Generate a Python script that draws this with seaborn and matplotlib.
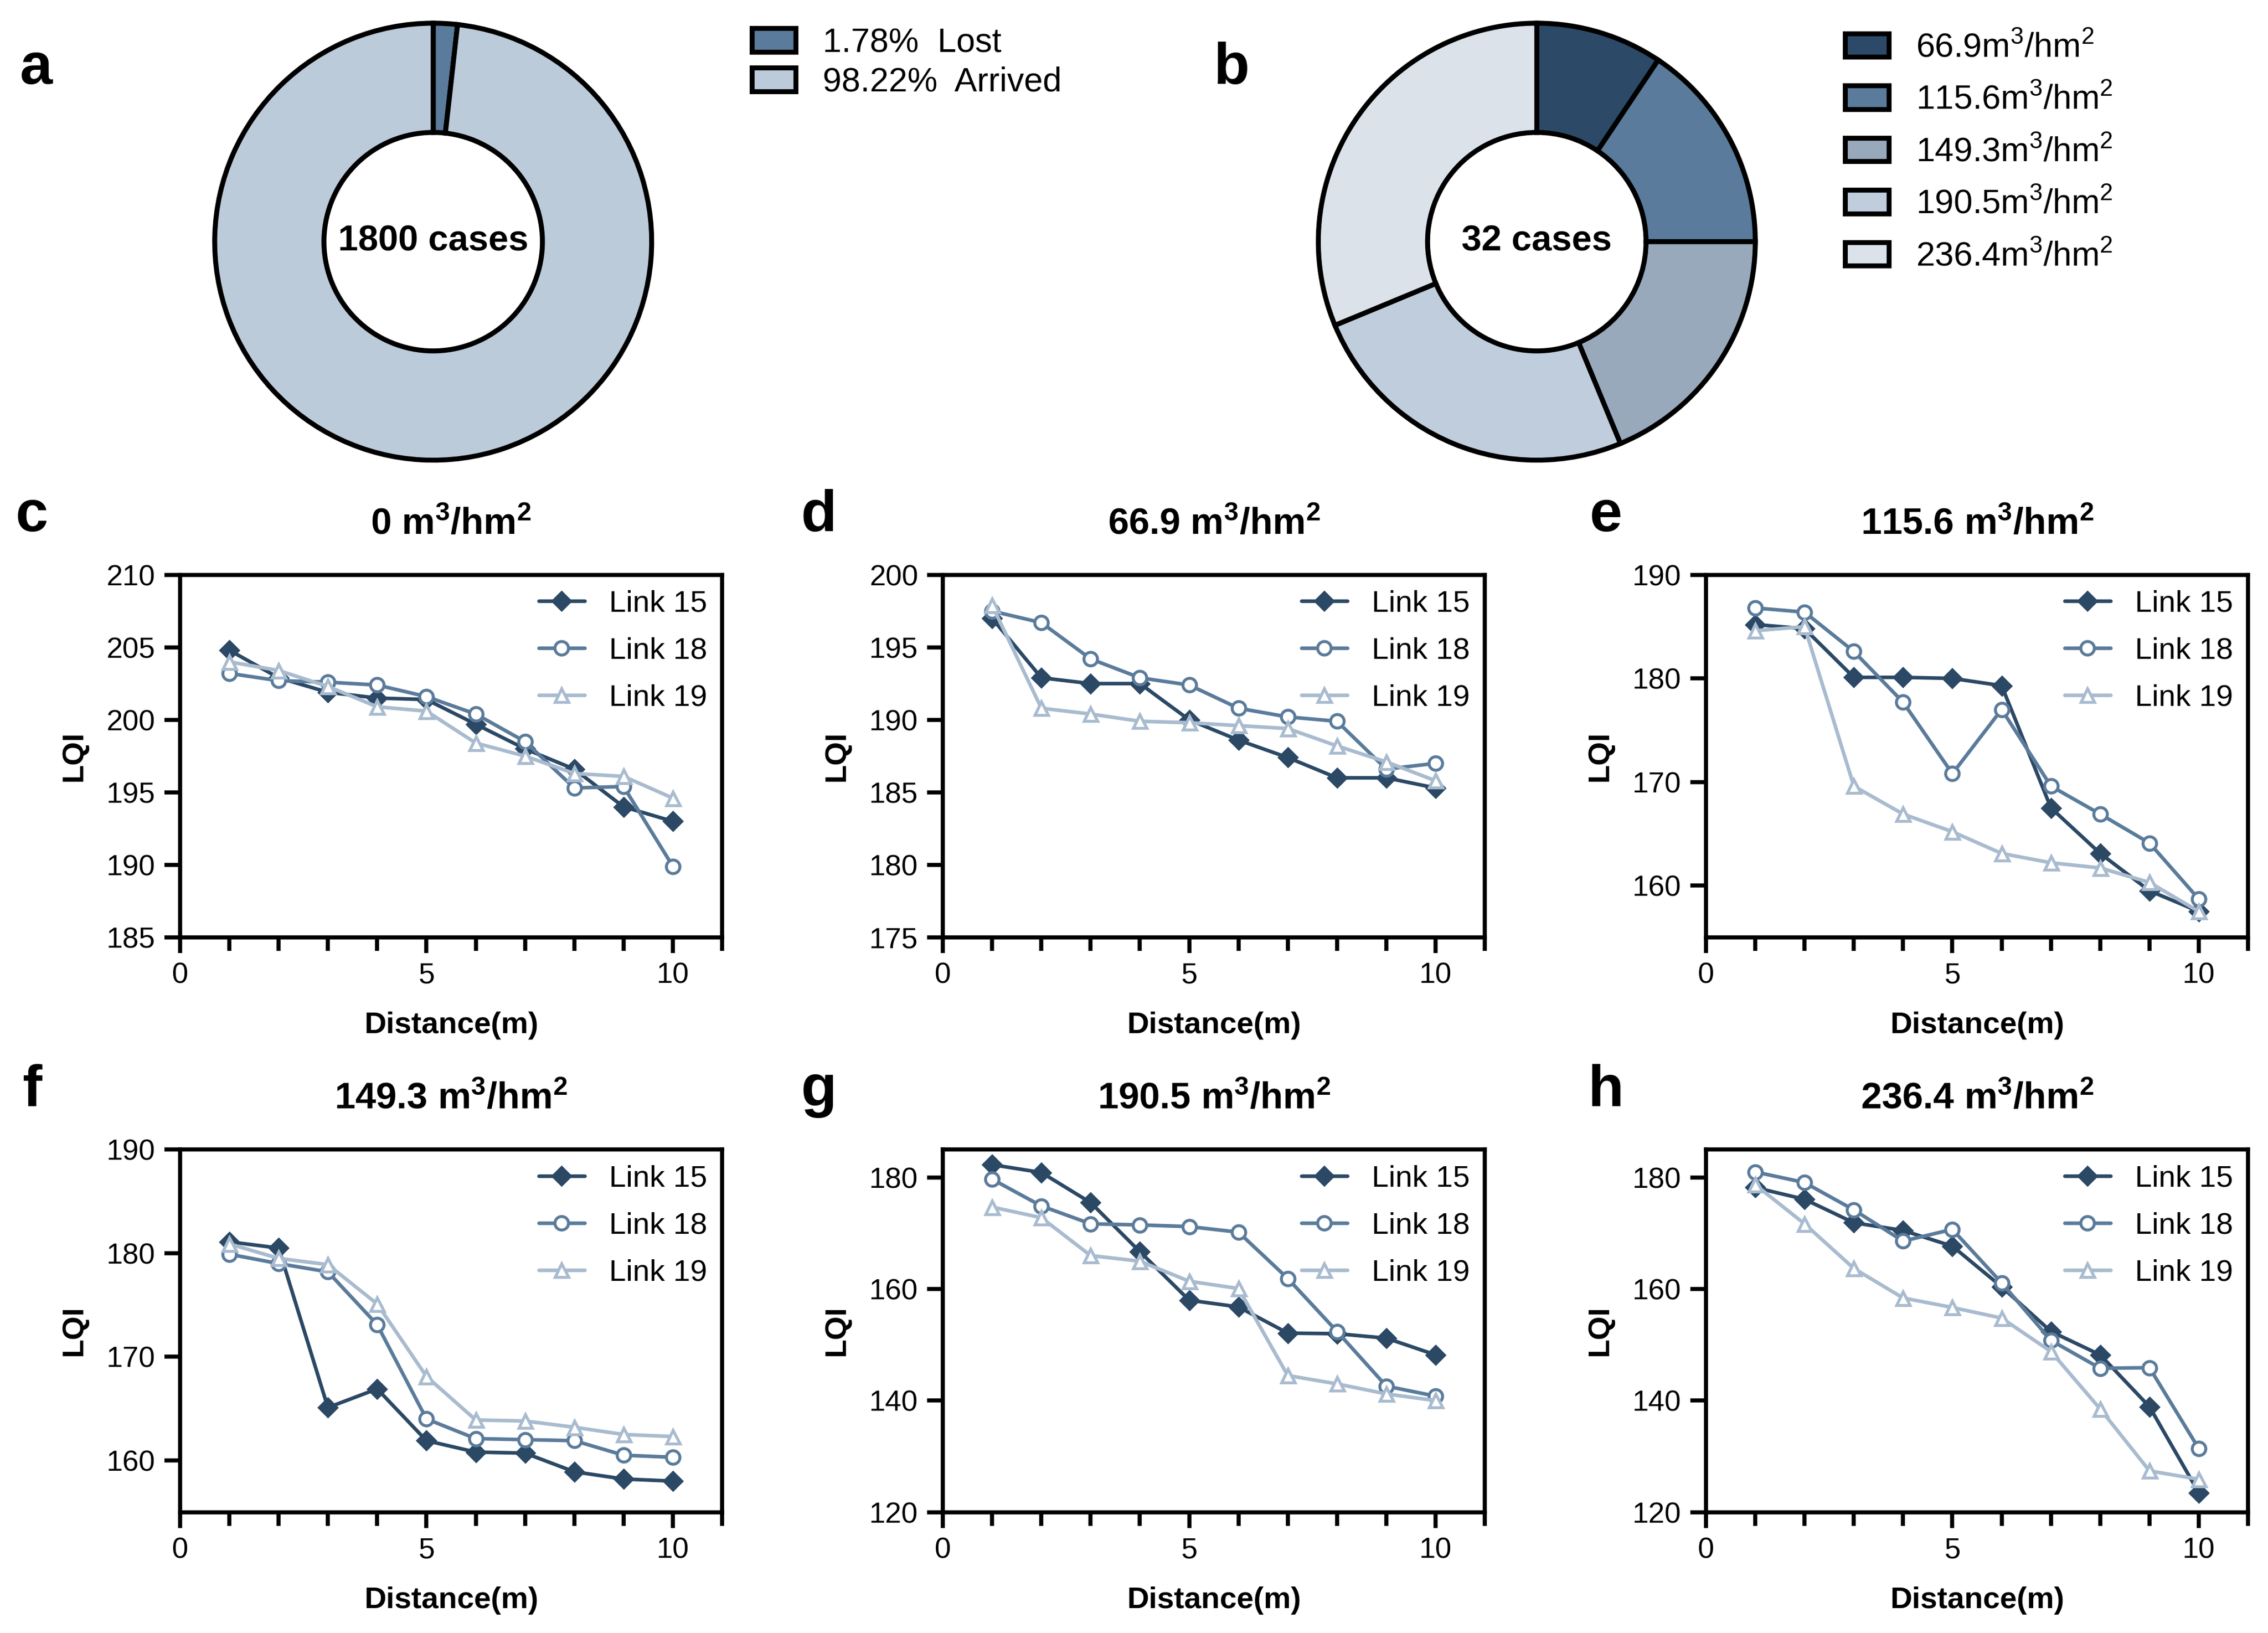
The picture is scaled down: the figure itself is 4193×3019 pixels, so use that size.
import numpy as np
import pandas as pd
import matplotlib
matplotlib.use("Agg")
import matplotlib.pyplot as plt
from matplotlib.patches import Patch
import seaborn as sns

# ---------------- data ----------------
pie_a_labels = ["1.78%  Lost", "98.22%  Arrived"]
pie_a_values = [1.78, 98.22]
pie_a_center = "1800 cases"

pie_b_labels = [r"66.9m$^3$/hm$^2$", r"115.6m$^3$/hm$^2$", r"149.3m$^3$/hm$^2$",
                r"190.5m$^3$/hm$^2$", r"236.4m$^3$/hm$^2$"]
pie_b_values = [3, 5, 6, 8, 10]
pie_b_center = "32 cases"

distance = [1, 2, 3, 4, 5, 6, 7, 8, 9, 10]
links = ["Link 15", "Link 18", "Link 19"]

c15 = [204.8, 202.9, 201.9, 201.5, 201.4, 199.7, 198.0, 196.6, 194.0, 193.0]
c18 = [203.2, 202.7, 202.6, 202.4, 201.6, 200.4, 198.5, 195.3, 195.4, 189.9]
c19 = [204.0, 203.4, 202.3, 200.9, 200.6, 198.4, 197.5, 196.3, 196.1, 194.6]

d15 = [197.0, 192.9, 192.5, 192.5, 190.0, 188.6, 187.4, 186.0, 186.0, 185.3]
d18 = [197.5, 196.7, 194.2, 192.9, 192.4, 190.8, 190.2, 189.9, 186.6, 187.0]
d19 = [197.9, 190.8, 190.4, 189.9, 189.8, 189.6, 189.4, 188.2, 187.1, 185.8]

e15 = [185.2, 184.8, 180.1, 180.1, 180.0, 179.3, 167.5, 163.1, 159.5, 157.5]
e18 = [186.8, 186.4, 182.6, 177.7, 170.8, 177.0, 169.6, 166.9, 164.1, 158.7]
e19 = [184.6, 185.0, 169.6, 166.9, 165.2, 163.1, 162.2, 161.7, 160.3, 157.5]

f15 = [181.1, 180.5, 165.1, 166.9, 161.9, 160.8, 160.7, 158.9, 158.2, 158.0]
f18 = [179.9, 179.0, 178.2, 173.1, 164.0, 162.1, 162.0, 161.9, 160.5, 160.3]
f19 = [180.9, 179.5, 178.9, 175.1, 168.1, 163.9, 163.8, 163.2, 162.5, 162.3]

g15 = [182.3, 180.9, 175.5, 166.7, 158.0, 156.8, 152.1, 152.0, 151.2, 148.2]
g18 = [179.7, 174.9, 171.7, 171.5, 171.2, 170.2, 161.9, 152.4, 142.6, 140.8]
g19 = [174.7, 172.8, 166.0, 165.0, 161.4, 160.1, 144.5, 143.0, 141.2, 140.0]

h15 = [178.2, 176.1, 171.9, 170.5, 167.7, 160.4, 152.4, 148.2, 138.9, 123.5]
h18 = [181.0, 179.1, 174.2, 168.6, 170.7, 161.1, 150.8, 145.8, 145.9, 131.4]
h19 = [178.7, 171.7, 163.7, 158.4, 156.7, 154.8, 148.8, 138.5, 127.4, 125.9]

panel_titles = [r"0 m$^3$/hm$^2$", r"66.9 m$^3$/hm$^2$", r"115.6 m$^3$/hm$^2$",
                r"149.3 m$^3$/hm$^2$", r"190.5 m$^3$/hm$^2$", r"236.4 m$^3$/hm$^2$"]
panel_series = [(c15, c18, c19), (d15, d18, d19), (e15, e18, e19),
                (f15, f18, f19), (g15, g18, g19), (h15, h18, h19)]
panel_ylims = [(185, 210), (175, 200), (155, 190), (155, 190), (120, 185), (120, 185)]
panel_yticks = [[185, 190, 195, 200, 205, 210], [175, 180, 185, 190, 195, 200],
                [160, 170, 180, 190], [160, 170, 180, 190],
                [120, 140, 160, 180], [120, 140, 160, 180]]
panel_letters = ["c", "d", "e", "f", "g", "h"]

# ---------------- style ----------------
sns.set_style("ticks")
plt.rcParams["font.family"] = ["Liberation Sans", "DejaVu Sans"]
plt.rcParams["mathtext.default"] = "regular"
plt.rcParams["text.color"] = "black"
plt.rcParams["axes.labelcolor"] = "black"
plt.rcParams["xtick.color"] = "black"
plt.rcParams["ytick.color"] = "black"
plt.rcParams["xtick.labelcolor"] = "black"
plt.rcParams["ytick.labelcolor"] = "black"

link_colors = ["#2b4865", "#5b7b9b", "#a9bbcf"]
link_markers = ["D", "o", "^"]
link_faces = ["#2b4865", "white", "white"]
pie_a_colors = ["#5a7b9b", "#bccbda"]
pie_b_colors = ["#2c4a68", "#5a7b9b", "#98a9bc", "#bfcddc", "#dce2ea"]

W, H = 4193, 3019
fig = plt.figure(figsize=(W / 300, H / 300), dpi=300)

# ---------------- donuts ----------------
def donut(cx, cy, r_px, values, colors, center_text):
    rw = r_px / W
    rh = r_px / H
    ax = fig.add_axes([cx - rw, cy - rh, 2 * rw, 2 * rh])
    ax.pie(values, colors=colors, startangle=90, counterclock=False,
           radius=1.0, wedgeprops=dict(width=0.5, edgecolor="black", linewidth=2.2))
    ax.set_xlim(-1.02, 1.02)
    ax.set_ylim(-1.02, 1.02)
    ax.set_aspect("equal")
    ax.axis("off")
    ax.text(0, 0, center_text, ha="center", va="center", fontsize=16, fontweight="bold")
    return ax

donut(0.191, 0.852, 412, pie_a_values, pie_a_colors, pie_a_center)
donut(0.6776, 0.852, 412, pie_b_values, pie_b_colors, pie_b_center)

handles_a = [Patch(facecolor=c, edgecolor="black", linewidth=2.2) for c in pie_a_colors]
fig.legend(handles_a, pie_a_labels, loc="upper left", bbox_to_anchor=(0.318, 1.002),
           frameon=False, fontsize=15, handlelength=1.3, handleheight=0.7,
           labelspacing=0.22, handletextpad=0.8)
handles_b = [Patch(facecolor=c, edgecolor="black", linewidth=2.2) for c in pie_b_colors]
fig.legend(handles_b, pie_b_labels, loc="upper left", bbox_to_anchor=(0.800, 0.999),
           frameon=False, fontsize=15, handlelength=1.3, handleheight=0.7,
           labelspacing=0.6, handletextpad=0.8)

fig.text(0.016, 0.958, "a", fontsize=26, fontweight="bold", ha="center", va="center")
fig.text(0.543, 0.958, "b", fontsize=26, fontweight="bold", ha="center", va="center")

# ---------------- line panels ----------------
lefts = [0.0794, 0.4157, 0.7522]
bottoms = [0.426, 0.074]
letter_x = [0.014, 0.361, 0.708]
letter_y = [0.684, 0.332]

for i in range(6):
    r, c = divmod(i, 3)
    ax = fig.add_axes([lefts[c], bottoms[r], 0.239, 0.222])
    for j, name in enumerate(links):
        df = pd.DataFrame({"Distance": distance, "LQI": panel_series[i][j]})
        sns.lineplot(data=df, x="Distance", y="LQI", ax=ax, color=link_colors[j],
                     marker=link_markers[j], markersize=6 if j else 5.5,
                     markerfacecolor=link_faces[j], markeredgecolor=link_colors[j],
                     markeredgewidth=1.3, linewidth=1.6, label=name)
    ax.set_xlim(0, 11)
    ax.set_ylim(*panel_ylims[i])
    ax.set_xticks([0, 5, 10])
    ax.set_xticks(range(0, 12), minor=True)
    ax.set_yticks(panel_yticks[i])
    for s in ax.spines.values():
        s.set_linewidth(1.8)
        s.set_color("black")
    ax.tick_params(axis="both", which="both", direction="out", width=1.8,
                   color="black", labelsize=13, labelcolor="black")
    ax.tick_params(axis="both", which="major", length=7, pad=4)
    ax.tick_params(axis="x", which="minor", length=6)
    ax.set_xlabel("Distance(m)", fontsize=13.5, fontweight="bold", labelpad=10)
    ax.set_ylabel("LQI", fontsize=13.5, fontweight="bold", labelpad=8)
    ax.set_title(panel_titles[i], fontsize=16.5, fontweight="bold", pad=18)
    leg = ax.legend(loc="upper right", frameon=False, fontsize=13.5, handlelength=1.5,
                    labelspacing=0.62, borderaxespad=0.1, handletextpad=0.8)
    fig.text(letter_x[c], letter_y[r], panel_letters[i], fontsize=26,
             fontweight="bold", ha="center", va="center")

fig.savefig("out.png", dpi=300)
